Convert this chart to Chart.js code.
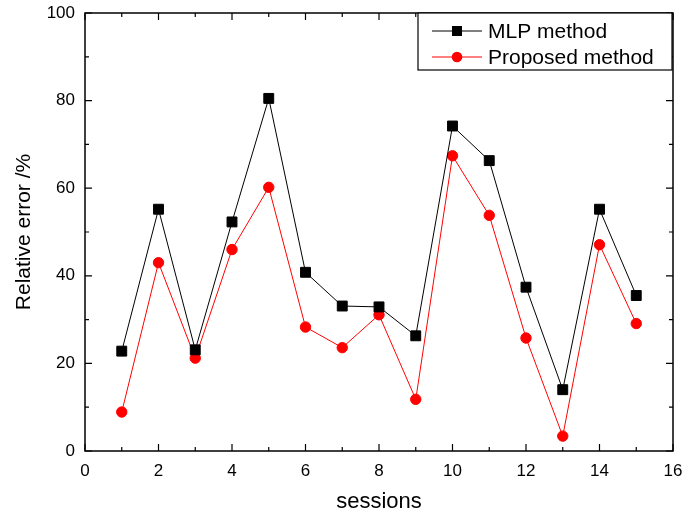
<!DOCTYPE html>
<html>
<head>
<meta charset="utf-8">
<script src="https://cdn.jsdelivr.net/npm/chart.js@4"></script>
<style>
    html, body { margin: 0; padding: 0; background: #fff; }
    #wrap { width: 684px; height: 517px; }
</style>
</head>
<body>
<div id="wrap"><canvas id="lineChart"></canvas></div>
<script>
// Data
const sessions = [1, 2, 3, 4, 5, 6, 7, 8, 9, 10, 11, 12, 13, 14, 15];
const mlpError = [22.8, 55.2, 23.1, 52.3, 80.5, 40.8, 33.1, 32.9, 26.3, 74.2, 66.3, 37.4, 14.0, 55.2, 35.5];
const proposedError = [8.9, 43.0, 21.2, 46.0, 60.2, 28.3, 23.6, 31.1, 11.8, 67.4, 53.8, 25.8, 3.4, 47.1, 29.1];
const xTicks = [0, 2, 4, 6, 8, 10, 12, 14, 16];
const yTicks = [0, 20, 40, 60, 80, 100];

const FONT = '"Liberation Sans", Arial, sans-serif';

// Box frame with inward major/minor ticks on all four sides
const framePlugin = {
    id: 'frame',
    afterDatasetsDraw(chart) {
        const { ctx, chartArea: a, scales: { x, y } } = chart;
        ctx.save();
        ctx.strokeStyle = '#000';
        ctx.lineWidth = 1.5;
        ctx.strokeRect(a.left, a.top, a.right - a.left, a.bottom - a.top);
        ctx.lineWidth = 1.2;
        ctx.beginPath();
        for (let v = x.min; v <= x.max; v += 1) {
            const px = x.getPixelForValue(v);
            const len = v % 2 === 0 ? 7 : 4;
            ctx.moveTo(px, a.bottom); ctx.lineTo(px, a.bottom - len);
            ctx.moveTo(px, a.top); ctx.lineTo(px, a.top + len);
        }
        for (let v = y.min; v <= y.max; v += 10) {
            const py = y.getPixelForValue(v);
            const len = v % 20 === 0 ? 7 : 4;
            ctx.moveTo(a.left, py); ctx.lineTo(a.left + len, py);
            ctx.moveTo(a.right, py); ctx.lineTo(a.right - len, py);
        }
        ctx.stroke();
        ctx.restore();
    }
};

// Boxed legend in the top-right corner of the plot
const legendPlugin = {
    id: 'boxLegend',
    afterDraw(chart) {
        const { ctx, chartArea: a } = chart;
        const left = a.right - 255, top = a.top, w = 254, h = 57;
        ctx.save();
        ctx.fillStyle = '#fff';
        ctx.fillRect(left, top, w, h);
        ctx.strokeStyle = '#000';
        ctx.lineWidth = 1.2;
        ctx.strokeRect(left, top, w, h);
        chart.data.datasets.forEach((ds, i) => {
            const cy = top + 18 + i * 26;
            ctx.strokeStyle = ds.borderColor;
            ctx.lineWidth = 1;
            ctx.beginPath();
            ctx.moveTo(left + 14, cy);
            ctx.lineTo(left + 64, cy);
            ctx.stroke();
            ctx.fillStyle = ds.pointBackgroundColor;
            if (ds.pointStyle === 'rect') {
                ctx.fillRect(left + 39 - 5, cy - 5, 10, 10);
            } else {
                ctx.beginPath();
                ctx.arc(left + 39, cy, 5.3, 0, Math.PI * 2);
                ctx.fill();
            }
            ctx.fillStyle = '#000';
            ctx.font = '21px ' + FONT;
            ctx.textBaseline = 'middle';
            ctx.fillText(ds.label, left + 70, cy + 1);
        });
        ctx.restore();
    }
};

const ctx = document.getElementById('lineChart').getContext('2d');
new Chart(ctx, {
    type: 'line',
    data: {
        datasets: [{
            label: 'MLP method',
            data: sessions.map((s, i) => ({ x: s, y: mlpError[i] })),
            borderColor: '#000',
            backgroundColor: '#000',
            pointBackgroundColor: '#000',
            pointBorderColor: '#000',
            pointStyle: 'rect',
            pointRadius: 7,
            borderWidth: 1,
            tension: 0,
        }, {
            label: 'Proposed method',
            data: sessions.map((s, i) => ({ x: s, y: proposedError[i] })),
            borderColor: '#ff0000',
            backgroundColor: '#ff0000',
            pointBackgroundColor: '#ff0000',
            pointBorderColor: '#ff0000',
            pointStyle: 'circle',
            pointRadius: 5.2,
            borderWidth: 1,
            tension: 0,
        }]
    },
    options: {
        responsive: true,
        maintainAspectRatio: false,
        animation: false,
        layout: {
            padding: { top: 13, right: 11, left: 0, bottom: 0 }
        },
        plugins: {
            legend: { display: false },
            tooltip: { enabled: false },
        },
        scales: {
            x: {
                type: 'linear',
                min: 0,
                max: 16,
                afterFit(scale) {
                    scale.height = 66;
                    scale.paddingLeft = 0;
                    scale.paddingRight = 0;
                },
                afterBuildTicks(scale) { scale.ticks = xTicks.map(v => ({ value: v })); },
                grid: { display: false, drawTicks: false },
                border: { display: false },
                ticks: {
                    color: '#000',
                    padding: 10,
                    maxRotation: 0,
                    font: { family: FONT, size: 17 },
                },
                title: {
                    display: true,
                    text: 'sessions',
                    color: '#000',
                    padding: { top: 0, bottom: 2 },
                    font: { family: FONT, size: 22 },
                },
            },
            y: {
                min: 0,
                max: 100,
                afterFit(scale) {
                    scale.width = 85;
                    scale.paddingTop = 0;
                    scale.paddingBottom = 0;
                },
                afterBuildTicks(scale) { scale.ticks = yTicks.map(v => ({ value: v })); },
                grid: { display: false, drawTicks: false },
                border: { display: false },
                ticks: {
                    color: '#000',
                    padding: 10,
                    font: { family: FONT, size: 17 },
                },
                title: {
                    display: true,
                    text: 'Relative error /%',
                    color: '#000',
                    padding: { top: 12, bottom: 0 },
                    font: { family: FONT, size: 21 },
                },
            }
        }
    },
    plugins: [framePlugin, legendPlugin],
});
</script>
</body>
</html>
